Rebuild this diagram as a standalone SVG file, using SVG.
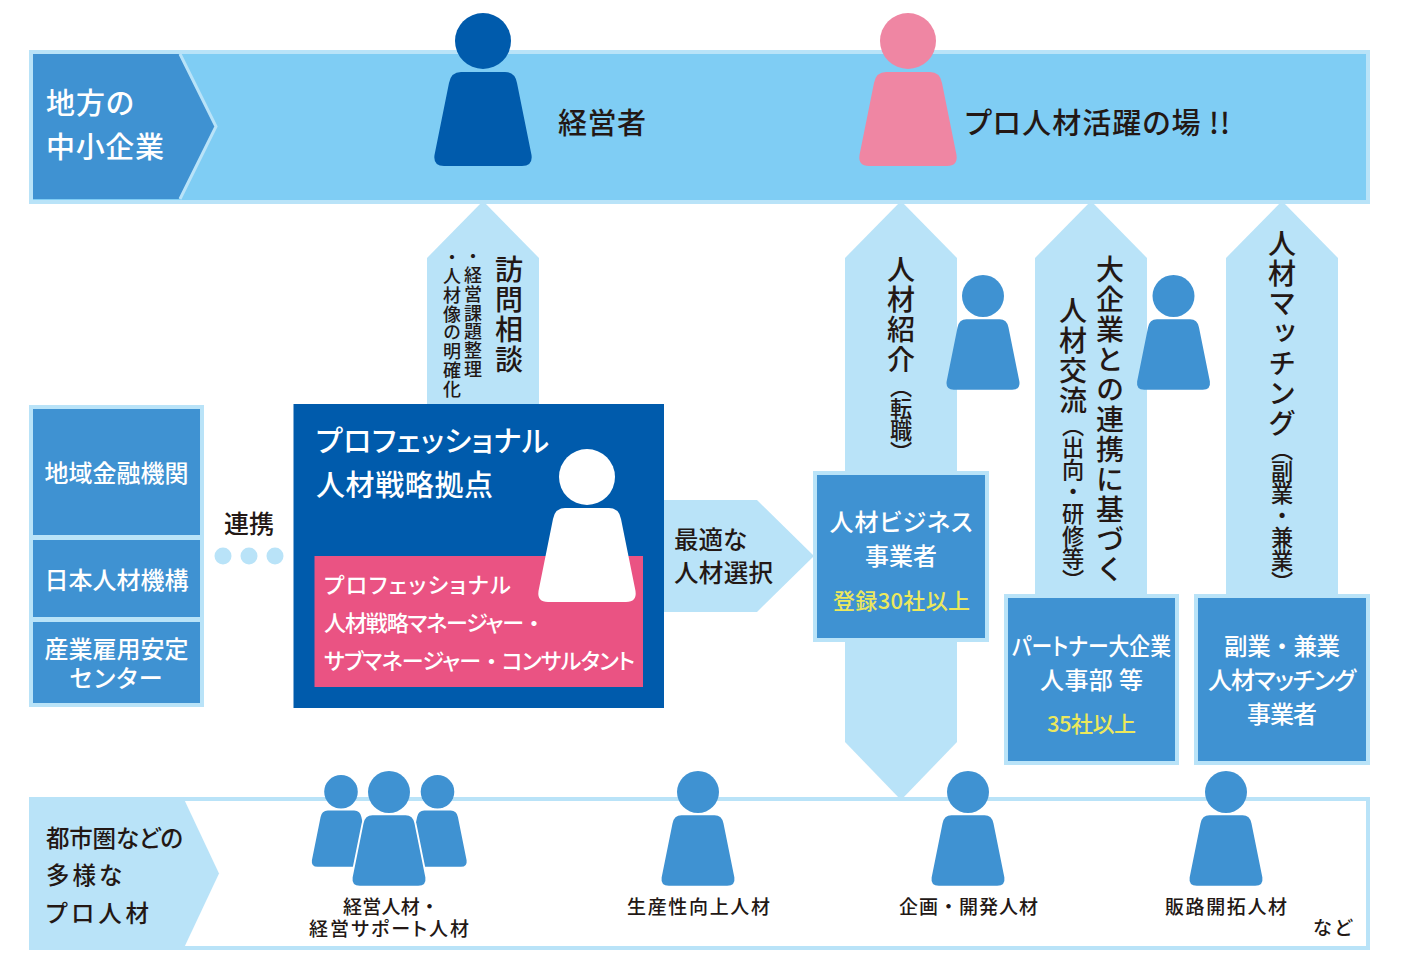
<svg xmlns="http://www.w3.org/2000/svg" width="1402" height="967" viewBox="0 0 1402 967">
<style>
text{font-family:"Noto Sans CJK JP","Noto Sans",sans-serif;font-weight:500;font-feature-settings:"palt";fill:#231815}
.w{fill:#fff}
.y{fill:#ece85c}
.v{writing-mode:vertical-rl;font-feature-settings:normal}
.b{font-size:28px;letter-spacing:2px}
.s{font-size:22.200px}
.t{font-size:18px;letter-spacing:.9px}
.n{font-feature-settings:normal}
.l{fill:#b9e3f8}
.m{fill:#3f92d2}
</style>
<defs>
<path id="body" d="M-22 59H22Q32 59 34 70L48.500 142Q50 153 39 153H-39Q-50 153 -48.500 142L-34 70Q-32 59 -22 59Z"/>
<g id="person">
<circle cx="0" cy="28" r="28"/>
<use href="#body"/>
</g>
</defs>
<rect width="1402" height="967" fill="#fff"/>
<g id="connectors">
<path class="l" d="M483 201L539 258V404H427V258Z"/>
<path class="l" d="M901 201L957 258V742L901 800L845 742V258Z"/>
<path class="l" d="M1091 201L1147 258V595H1035V258Z"/>
<path class="l" d="M1282 201L1338 258V595H1226V258Z"/>
<path class="l" d="M664 500H757L814 556L757 612H664Z"/>
<circle class="l" cx="223" cy="556" r="8.500"/>
<circle class="l" cx="249" cy="556" r="8.500"/>
<circle class="l" cx="275" cy="556" r="8.500"/>
</g>
<g id="top-band">
<rect x="31" y="52" width="1337" height="150" fill="#7fcdf4" stroke="#b9e3f8" stroke-width="4"/>
<path class="m" d="M33 54H179L215 126.500L179 199H33Z"/>
<path d="M180 54L216 126.500L180 199" fill="none" stroke="#b9e3f8" stroke-width="3"/>
<text class="w" x="46" y="114" font-size="29" textLength="88">地方の</text>
<text class="w" x="46" y="158" font-size="29" textLength="118">中小企業</text>
</g>
<g id="manager">
<use href="#person" x="483" y="13" fill="#005bac"/>
<text x="558" y="134" font-size="29" textLength="88">経営者</text>
</g>
<g id="pro-field">
<use href="#person" x="908" y="13" fill="#ef86a3"/>
<text x="965" y="134" font-size="29" textLength="265">プロ人材活躍の場 !!</text>
</g>
<g id="visit">
<text class="v b" x="509" y="255">訪問相談</text>
<text class="v t" x="473" y="247">・経営課題整理</text>
<text class="v t" x="452" y="248">・人材像の明確化</text>
</g>
<g id="partners">
<rect class="l" x="29" y="405" width="175" height="302"/>
<rect class="m" x="33" y="409" width="167" height="126"/>
<rect class="m" x="33" y="540" width="167" height="77"/>
<rect class="m" x="33" y="622" width="167" height="81"/>
<text class="w" x="44.500" y="482" font-size="24" textLength="144">地域金融機関</text>
<text class="w" x="44.500" y="589" font-size="24" textLength="144">日本人材機構</text>
<text class="w" x="44.500" y="658" font-size="24" textLength="144">産業雇用安定</text>
<text class="w" x="69.500" y="687" font-size="24" textLength="93">センター</text>
</g>
<g id="renkei">
<text x="224" y="533" font-size="25" textLength="50">連携</text>
</g>
<g id="hub">
<rect x="293.500" y="404" width="370.500" height="304" fill="#005bac"/>
<rect x="314.500" y="556" width="328.500" height="131" fill="#ea5383"/>
<use href="#person" x="587" y="449" fill="#fff"/>
<text class="w" x="316" y="451.500" font-size="29" textLength="233">プロフェッショナル</text>
<text class="w" x="316" y="496" font-size="29" textLength="177">人材戦略拠点</text>
<text class="w" x="324" y="593" font-size="22" textLength="187">プロフェッショナル</text>
<text class="w" x="324" y="631" font-size="22" textLength="221">人材戦略マネージャー<tspan class="n">・</tspan></text>
<text class="w" x="324" y="669" font-size="22" textLength="311">サブマネージャー<tspan class="n">・</tspan>コンサルタント</text>
</g>
<g id="selection">
<text x="674" y="548.500" font-size="24.500" textLength="73">最適な</text>
<text x="674" y="582" font-size="24.500" textLength="99">人材選択</text>
</g>
<g id="intro">
<text class="v b" x="901" y="255">人材紹介</text>
<text class="v s" x="901" y="375">（転職）</text>
<use href="#person" transform="translate(983 275) scale(.75)" class="m"/>
</g>
<g id="exchange">
<text class="v b" x="1110" y="255">大企業との連携に基づく</text>
<text class="v b" x="1073" y="296">人材交流</text>
<text class="v s" x="1073" y="414">（出向・研修等）</text>
<use href="#person" transform="translate(1173.500 275) scale(.75)" class="m"/>
</g>
<g id="matching">
<text class="v b" x="1282" y="229">人材マッチング</text>
<text class="v s" x="1282" y="438">（副業・兼業）</text>
</g>
<g id="biz">
<rect class="l" x="813" y="471" width="176" height="171"/>
<rect class="m" x="817" y="475" width="168" height="163"/>
<text class="w" x="829.500" y="531" font-size="24" textLength="143">人材ビジネス</text>
<text class="w" x="865" y="565" font-size="24" textLength="72">事業者</text>
<text class="y" x="833" y="609" font-size="22" textLength="137">登録30社以上</text>
</g>
<g id="enterprise">
<rect class="l" x="1004" y="594" width="175" height="171"/>
<rect class="m" x="1008" y="598" width="167" height="163"/>
<text class="w" x="1012" y="655" font-size="24" textLength="159" lengthAdjust="spacingAndGlyphs">パートナー大企業</text>
<text class="w" x="1040" y="689" font-size="24" textLength="103">人事部 等</text>
<text class="y" x="1047" y="732" font-size="22" textLength="89">35社以上</text>
</g>
<g id="sidejob">
<rect class="l" x="1194" y="594" width="176" height="171"/>
<rect class="m" x="1198" y="598" width="168" height="163"/>
<text class="w n" x="1224" y="655" font-size="23.500" textLength="116">副業・兼業</text>
<text class="w" x="1208" y="689" font-size="24" textLength="148">人材マッチング</text>
<text class="w" x="1247" y="723" font-size="24" textLength="70">事業者</text>
</g>
<g id="bottom-band">
<rect x="31" y="799" width="1337" height="149" fill="#fff" stroke="#b9e3f8" stroke-width="4"/>
<path class="l" d="M29 797H183L219 873.500L183 950H29Z"/>
<text x="46" y="847" font-size="23.500" textLength="137">都市圏などの</text>
<text x="46" y="884" font-size="23.500" textLength="76">多様な</text>
<text x="46" y="922" font-size="23.500" textLength="103">プロ人材</text>
</g>
<g id="mgmt-talent">
<use href="#person" transform="translate(341 775) scale(.6)" class="m"/>
<use href="#person" transform="translate(437.500 775) scale(.6)" class="m"/>
<use href="#body" transform="translate(389 771) scale(.75)" fill="#fff" stroke="#fff" stroke-width="5"/>
<use href="#person" transform="translate(389 771) scale(.75)" class="m"/>
<text x="343" y="913.500" font-size="19" textLength="96">経営人材<tspan class="n">・</tspan></text>
<text x="309" y="936" font-size="19" textLength="160">経営サポート人材</text>
</g>
<g id="productivity">
<use href="#person" transform="translate(698 771) scale(.75)" class="m"/>
<text x="627" y="913.500" font-size="19" textLength="143">生産性向上人材</text>
</g>
<g id="planning">
<use href="#person" transform="translate(968 771) scale(.75)" class="m"/>
<text class="n" x="899" y="913.500" font-size="19" textLength="139">企画・開発人材</text>
</g>
<g id="sales">
<use href="#person" transform="translate(1226 771) scale(.75)" class="m"/>
<text x="1165" y="913.500" font-size="19" textLength="122">販路開拓人材</text>
</g>
<g id="etc">
<text x="1313" y="935" font-size="19" textLength="39">など</text>
</g>
</svg>
